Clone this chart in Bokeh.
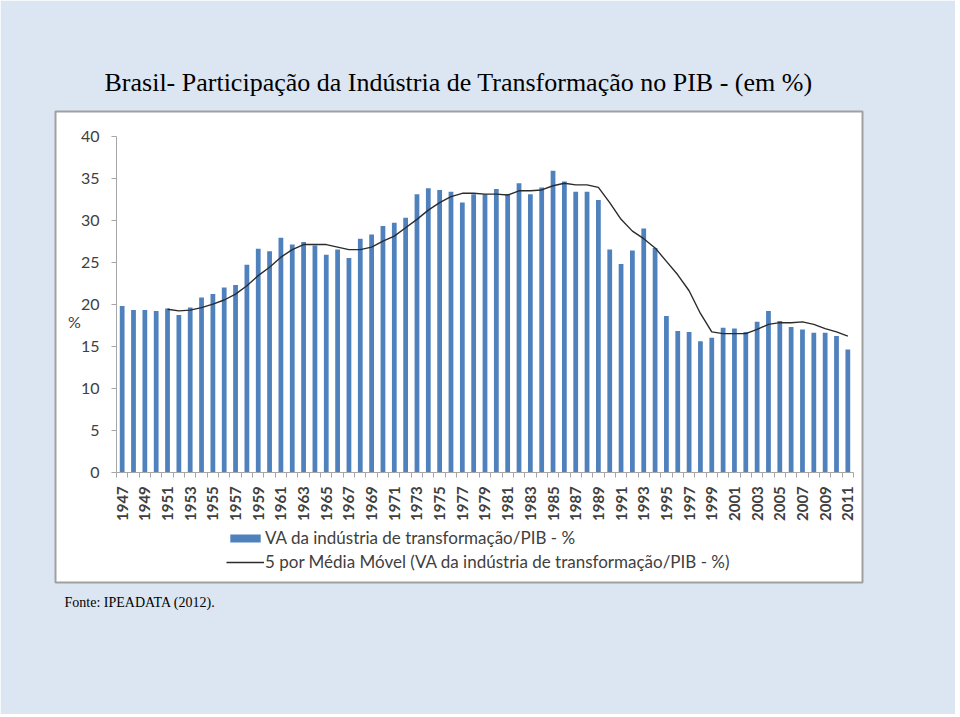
from math import pi
from bokeh.plotting import figure
from bokeh.models import (Range1d, FixedTicker, Label, Legend, LegendItem, Title,
                          ColumnDataSource)
from bokeh.embed import file_html
from bokeh.resources import INLINE

# ---------------- data ----------------
years = list(range(1947, 2012))
va_pib = [19.8, 19.3, 19.3, 19.2, 19.5, 18.7, 19.6, 20.8, 21.2, 22.0,
          22.3, 24.7, 26.6, 26.3, 27.9, 27.1, 27.4, 27.0, 25.9, 26.5,
          25.5, 27.8, 28.3, 29.3, 29.7, 30.3, 33.1, 33.8, 33.6, 33.4,
          32.1, 33.1, 33.1, 33.7, 33.1, 34.4, 33.1, 33.9, 35.9, 34.6,
          33.4, 33.4, 32.4, 26.5, 24.8, 26.4, 29.0, 26.7, 18.6, 16.8,
          16.7, 15.6, 16.0, 17.2, 17.1, 16.7, 17.9, 19.2, 18.0, 17.3,
          17.0, 16.6, 16.6, 16.2, 14.6]
ma_years = list(range(1951, 2012))
ma_5 = [19.4, 19.2, 19.3, 19.6, 20.0, 20.5, 21.2, 22.2, 23.4, 24.4,
        25.6, 26.5, 27.1, 27.1, 27.1, 26.8, 26.5, 26.5, 26.8, 27.5,
        28.1, 29.1, 30.1, 31.2, 32.1, 32.8, 33.2, 33.2, 33.1, 33.1,
        33.0, 33.5, 33.5, 33.6, 34.1, 34.4, 34.2, 34.2, 33.9, 32.1,
        30.1, 28.7, 27.8, 26.7, 25.1, 23.5, 21.6, 18.9, 16.7, 16.5,
        16.5, 16.5, 17.0, 17.6, 17.8, 17.8, 17.9, 17.6, 17.1, 16.7,
        16.2]
x_tick_years = years[::2]
y_ticks = [0, 5, 10, 15, 20, 25, 30, 35, 40]

title_text = "Brasil- Participação da Indústria de Transformação no PIB -  (em %)"
bar_label = "VA da indústria de transformação/PIB - %"
line_label = "5 por Média Móvel (VA da indústria de transformação/PIB - %)"
source_text = "Fonte: IPEADATA (2012)."
y_unit = "%"

# ---------------- styles / layout ----------------
SLIDE_BG = "#dce6f2"
BAR_COLOR = "#4f81bd"
LINE_COLOR = "#2b2b2b"
AXIS_COLOR = "#a6a6a6"
TEXT_COLOR = "#404040"
SANS = "Lato"
SERIF = "Liberation Serif"

W, H = 955, 714
BOX_L, BOX_R, BOX_T, BOX_B = 55, 862, 111, 582        # white chart box (canvas px)
DATA_L, DATA_R, DATA_T, DATA_B = 116, 853, 135.7, 471.7  # plotting area inside it

x0, x1 = years[0] - 0.5, years[-1] + 0.5
ymax = 40
ppx = (DATA_R - DATA_L) / (x1 - x0)
ppy = (DATA_B - DATA_T) / ymax
xr = Range1d(x0 - (DATA_L - BOX_L) / ppx, x1 + (BOX_R - DATA_R) / ppx)
yr = Range1d(0 - (BOX_B - DATA_B) / ppy, ymax + (DATA_T - BOX_T) / ppy)

p = figure(width=W, height=H, output_backend="svg", toolbar_location=None,
           x_range=xr, y_range=yr,
           min_border_left=BOX_L, min_border_right=W - BOX_R,
           min_border_top=BOX_T, min_border_bottom=H - BOX_B)
p.border_fill_color = SLIDE_BG
p.background_fill_color = "white"
p.outline_line_color = "#a0a0a0"
p.outline_line_width = 2
p.xgrid.visible = False
p.ygrid.visible = False

src = ColumnDataSource(dict(x=years, y=va_pib))
bars = p.vbar(x="x", top="y", width=0.42, source=src, fill_color=BAR_COLOR, line_color=None)
ma_src = ColumnDataSource(dict(x=ma_years, y=ma_5))
line = p.line(x="x", y="y", source=ma_src, line_color=LINE_COLOR, line_width=1.4)

# x axis (drawn inside the white box at y = 0)
xa = p.xaxis[0]
xa.fixed_location = 0
xa.bounds = (x0, x1)
xa.ticker = FixedTicker(ticks=x_tick_years,
                        minor_ticks=[y - 0.5 for y in years] + [x1])
xa.major_label_orientation = pi / 2
xa.major_tick_out = 0
xa.major_tick_in = 0
xa.minor_tick_out = 5
xa.minor_tick_in = 0
xa.minor_tick_line_color = AXIS_COLOR
xa.axis_line_color = AXIS_COLOR
xa.major_label_text_font = SANS
xa.major_label_text_font_style = "bold"
xa.major_label_text_font_size = "15px"
xa.major_label_text_color = TEXT_COLOR
xa.major_label_standoff = 9
xa.major_label_overrides = {yr_: str(yr_) for yr_ in x_tick_years}

# y axis (drawn inside the white box at the first category edge)
ya = p.yaxis[0]
ya.fixed_location = x0
ya.bounds = (0, ymax)
ya.ticker = FixedTicker(ticks=y_ticks)
ya.minor_tick_line_color = None
ya.major_tick_out = 5
ya.major_tick_in = 0
ya.major_tick_line_color = AXIS_COLOR
ya.axis_line_color = AXIS_COLOR
ya.major_label_text_font = SANS
ya.major_label_text_font_size = "16px"
ya.major_label_text_color = TEXT_COLOR
ya.major_label_standoff = 12

# "%" unit label next to the y axis
p.add_layout(Label(x=x0 - (DATA_L - 74) / ppx, y=(DATA_B - 321) / ppy, text=y_unit,
                   text_font=SANS, text_font_size="16px", text_color=TEXT_COLOR,
                   text_align="center", text_baseline="middle"))

# title above, source below
p.add_layout(Title(text=title_text, align="left", offset=104 - BOX_L, standoff=29,
                   text_font=SERIF, text_font_size="26px", text_font_style="normal",
                   text_color="black"), "above")
p.add_layout(Title(text=source_text, align="left", offset=64 - BOX_L, standoff=20,
                   text_font=SERIF, text_font_size="14px", text_font_style="normal",
                   text_color="black"), "below")

legend = Legend(items=[LegendItem(label=bar_label, renderers=[bars]),
                       LegendItem(label=line_label, renderers=[line])],
                location=(226 - BOX_L, BOX_B - 572), orientation="vertical",
                glyph_width=38, glyph_height=10, label_height=20, spacing=3,
                padding=0, margin=0, label_standoff=1,
                border_line_color=None, background_fill_alpha=0,
                label_text_font=SANS, label_text_font_size="17px",
                label_text_color=TEXT_COLOR)
p.add_layout(legend, "center")

open("out.html", "w").write(file_html(p, INLINE))
